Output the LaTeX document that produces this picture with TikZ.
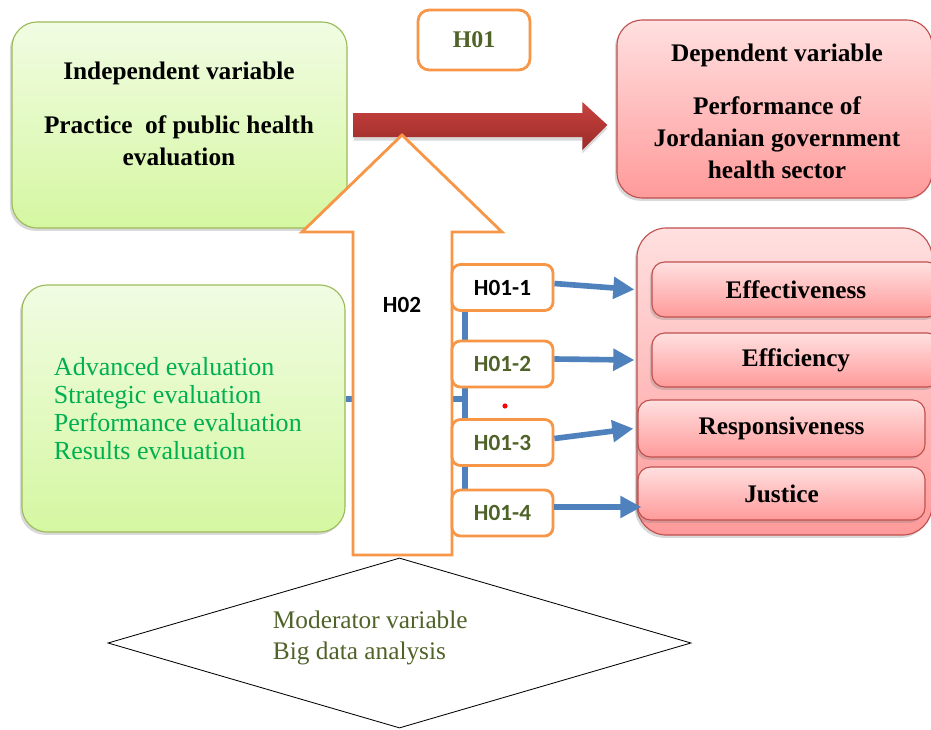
\documentclass[tikz,border=0pt]{standalone}
\usepackage{fontspec}
\setmainfont{Liberation Serif}
\newfontfamily\hfont{Carlito}
\usetikzlibrary{shapes.geometric, arrows.meta, positioning, calc, shadows, backgrounds}
\definecolor{gtop}{HTML}{F1FCE3}
\definecolor{gbot}{HTML}{D5F7A1}
\definecolor{gline}{HTML}{9BBB59}
\definecolor{ptop}{HTML}{FFE0E0}
\definecolor{pbot}{HTML}{FF9A9A}
\definecolor{pline}{HTML}{C0504D}
\definecolor{rtop}{HTML}{C8423F}
\definecolor{rbot}{HTML}{9A2B28}
\definecolor{hyorange}{HTML}{F79646}
\definecolor{busblue}{HTML}{4F81BD}
\definecolor{olive}{HTML}{4F6228}
\definecolor{evgreen}{HTML}{00B050}

\begin{document}
\begin{tikzpicture}[x=0.025cm, y=-0.025cm,
  varbox/.style={rounded corners=#1, line width=0.8pt, inner sep=0pt,
                 drop shadow={shadow xshift=-1.5pt, shadow yshift=-2pt, opacity=0.3}},
  greenbox/.style={varbox=18pt, draw=gline, top color=gtop, bottom color=gbot},
  pinkbox/.style={varbox=#1, draw=pline, top color=ptop, bottom color=pbot},
  bigtxt/.style={font=\fontsize{18}{22.8}\selectfont\bfseries, align=center},
  hypbox/.style={draw=hyorange, line width=2pt, rounded corners=6pt, fill=white,
                 minimum width=2.525cm, minimum height=1.15cm,
                 font=\hfont\fontsize{16.5}{18}\selectfont\bfseries, text=#1},
  barr/.style={draw=busblue, line width=4pt, -{Triangle[length=15pt, width=15pt]}},
  bus/.style={draw=busblue, line width=4pt},
  redarr/.style={top color=rtop, bottom color=rbot,
                 drop shadow={shadow xshift=0pt, shadow yshift=-2.5pt, opacity=0.3}},
  uparr/.style={draw=hyorange, line width=2pt, fill=white}
]
\clip (0,0) rectangle (931,729);

%% Variables
\node[greenbox, minimum width=8.375cm, minimum height=5.15cm] (indep) at (179.5,125) {};
\node[bigtxt] (indeptxt) at (179,114)
  {Independent variable\\[15.6pt]Practice\ \ of public health\\evaluation};
\node[pinkbox=18pt, minimum width=7.875cm, minimum height=4.45cm] (dep) at (774.5,109) {};
\node[bigtxt] (deptxt) at (777,111)
  {Dependent variable\\[15pt]Performance of\\Jordanian government\\health sector};

\node[greenbox, minimum width=8.075cm, minimum height=6.175cm] (evals) at (183.5,408.5) {};
\node[anchor=west, align=left, text=evgreen, font=\fontsize{18.5}{19.9}\selectfont]
  (evaltxt) at (49,409)
  {Advanced evaluation\\Strategic evaluation\\Performance evaluation\\Results evaluation};

%% Dimensions
\node[pinkbox=21pt, minimum width=7.375cm, minimum height=7.675cm] (grp) at (784.5,381.5) {};
\node[pinkbox=9pt, bigtxt, minimum width=7.2cm,   minimum height=1.375cm] (effect)  at (796,289.5)   {Effectiveness};
\node[pinkbox=9pt, bigtxt, minimum width=7.2cm,   minimum height=1.35cm]  (effic)   at (796,360)     {Efficiency};
\node[pinkbox=9pt, bigtxt, minimum width=7.175cm, minimum height=1.425cm] (respons) at (781.5,428.5) {Responsiveness};
\node[pinkbox=9pt, bigtxt, minimum width=7.175cm, minimum height=1.325cm] (justice) at (781.5,493.5) {Justice};

%% Moderator
\node[diamond, draw=black, line width=0.6pt, inner sep=0pt,
      minimum width=14.575cm, minimum height=4.25cm] (mod) at (399.5,643) {};
\node[anchor=west, align=left, text=olive, font=\fontsize{18}{22}\selectfont]
  (modtxt) at (268,638) {Moderator variable\\Big data analysis};

%% H01 main effect
\path (indep.east) ++(6,0) coordinate (rs);
\path (dep.west |- rs) ++(-9,0) coordinate (rt);
\shade[redarr] ($(rs)+(0,-12)$) -- ($(rt)+(-25,-12)$) -- ($(rt)+(-25,-23)$) -- (rt)
  -- ($(rt)+(-25,25)$) -- ($(rt)+(-25,12)$) -- ($(rs)+(0,12)$) -- cycle;
\node[draw=hyorange, line width=2pt, rounded corners=8pt, fill=white,
      minimum width=2.8cm, minimum height=1.5cm,
      font=\fontsize{17}{20}\selectfont\bfseries, text=olive] (h01) at (474,40) {H01};

%% H02 moderation
\coordinate (mt) at (402,135);
\coordinate (mb) at (402,555);
\draw[uparr] ($(mb)+(-49,0)$) -- ++(0,-323) -- ++(-51,0) -- (mt) -- ++(100,97)
  -- ++(-50,0) -- ++(0,323) -- cycle;
\node[font=\hfont\fontsize{16.5}{18}\selectfont\bfseries] (h02) at (402,305) {H02};

%% Sub-hypotheses
\node[hypbox=black] (h1) at (502.5,287.5) {H01-1};
\node[hypbox=olive] (h2) at (502.5,364)   {H01-2};
\node[hypbox=olive] (h3) at (502.5,442.5) {H01-3};
\node[hypbox=olive] (h4) at (502.5,513)   {H01-4};
\node[circle, fill=red, inner sep=1.3pt] (dot) at (505,406) {};

\begin{scope}[on background layer]
  \coordinate (bus) at (465,399);
  \draw[bus] (evals.east |- bus) -- (bus);
  \draw[bus] (h1.south -| bus) -- (h4.north -| bus);
\end{scope}

\draw[barr] ($(h1.east)+(0,-4)$) -- ($(effect.west -| grp.west)+(-2,0)$);
\draw[barr] ($(h2.east)+(0,-5)$) -- ($(effic.west -| grp.west)+(-2,0)$);
\draw[barr] ($(h3.east)+(0,-4)$) -- ($(respons.west -| grp.west)+(-3,0)$);
\draw[barr] ($(h4.east)+(0,-6)$) -- ($(justice.west |- h4.east)+(4,-6)$);

\end{tikzpicture}
\end{document}
